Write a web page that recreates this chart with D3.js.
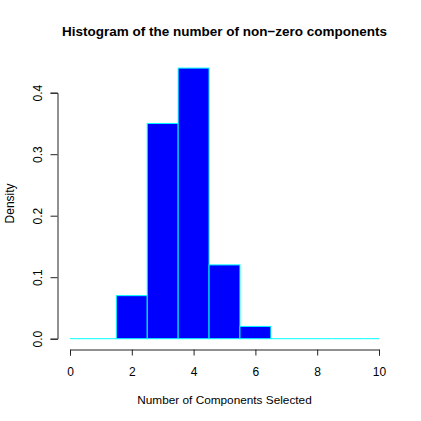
<!DOCTYPE html>
<html><head><meta charset="utf-8">
<script src="https://cdn.jsdelivr.net/npm/d3@7"></script>
<style>body{margin:0;background:#fff}svg{display:block}text{font-family:"Liberation Sans",Arial,sans-serif;fill:#000}</style>
</head><body>
<script>
const breaks = [0, 0.5, 1.5, 2.5, 3.5, 4.5, 5.5, 6.5, 7.5, 8.5, 9.5, 10];
const density = [0, 0, 0.07, 0.35, 0.44, 0.12, 0.02, 0, 0, 0, 0];
const xTicks = [0, 2, 4, 6, 8, 10];
const yTicks = [0.0, 0.1, 0.2, 0.3, 0.4];
const title = "Histogram of the number of non\u2212zero components";
const xLabel = "Number of Components Selected";
const yLabel = "Density";

const W = 421, H = 421;
const svg = d3.select("body").append("svg").attr("width", W).attr("height", H);
const x = d3.scaleLinear().domain([0, 10]).range([70, 379]);
const y = d3.scaleLinear().domain([0, 0.4]).range([338.7, 92.7]);

const bins = density.map((d, i) => ({x0: breaks[i], x1: breaks[i + 1], d}));
svg.append("g").selectAll("line").data(bins.filter(b => b.d === 0)).join("line")
  .attr("x1", b => x(b.x0)).attr("x2", b => x(b.x1))
  .attr("y1", y(0)).attr("y2", y(0))
  .attr("stroke", "#00ffff").attr("stroke-width", 1);
svg.append("g").selectAll("rect").data(bins.filter(b => b.d > 0)).join("rect")
  .attr("x", b => x(b.x0)).attr("width", b => x(b.x1) - x(b.x0))
  .attr("y", b => y(b.d)).attr("height", b => y(0) - y(b.d))
  .attr("fill", "#0000ff").attr("stroke", "#00ffff").attr("stroke-width", 1);

// x axis
const xa = svg.append("g").attr("transform", "translate(0,349.5)")
  .call(d3.axisBottom(x).tickValues(xTicks).tickSize(6).tickPadding(12).tickFormat(d3.format("d")));
xa.select(".domain").attr("stroke", "#222");
xa.selectAll(".tick line").attr("stroke", "#222");
xa.selectAll("text").attr("font-size", 12).style("font-family", "Liberation Sans, Arial, sans-serif");

// y axis
const ya = svg.append("g").attr("transform", "translate(57.5,0)")
  .call(d3.axisLeft(y).tickValues(yTicks).tickSize(7).tickFormat(d3.format(".1f")));
ya.select(".domain").attr("stroke", "#222");
ya.selectAll(".tick line").attr("stroke", "#222");
ya.selectAll(".tick text").attr("font-size", 12).attr("text-anchor", "middle")
  .attr("x", 0).attr("dy", null).attr("transform", "translate(-20,0) rotate(-90)")
  .attr("y", 4).style("font-family", "Liberation Sans, Arial, sans-serif");

svg.append("text").attr("x", (57.6 + 391.4) / 2).attr("y", 36).attr("text-anchor", "middle")
  .attr("font-size", 13.5).attr("font-weight", "bold").text(title);
svg.append("text").attr("x", (57.6 + 391.4) / 2).attr("y", 404).attr("text-anchor", "middle")
  .attr("font-size", 11.8).text(xLabel);
svg.append("text").attr("transform", "translate(14," + ((57.3 + 349.5) / 2) + ") rotate(-90)")
  .attr("text-anchor", "middle").attr("font-size", 12).text(yLabel);
</script>
</body></html>
